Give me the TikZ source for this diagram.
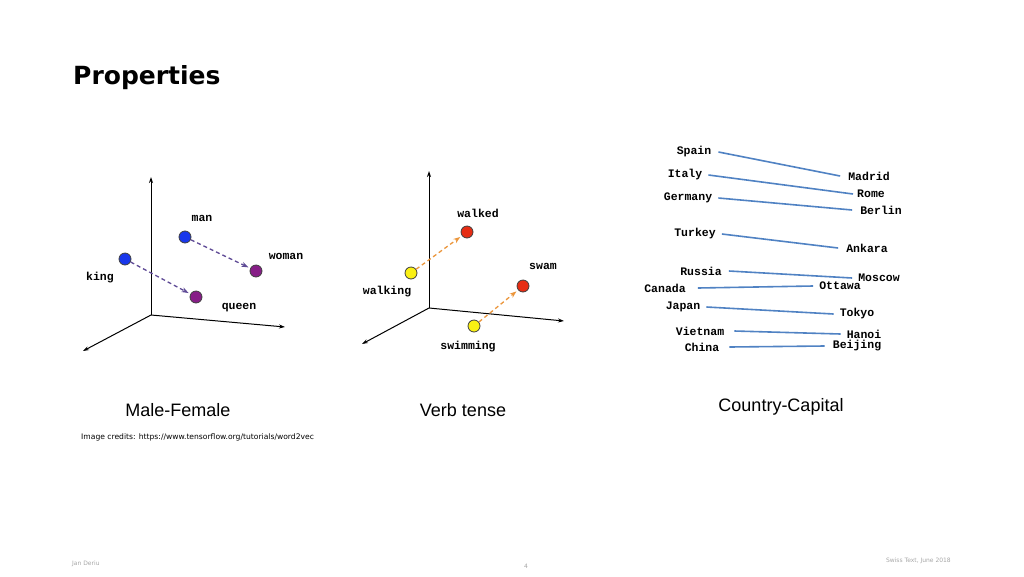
\documentclass[tikz,border=0pt]{standalone}
\usepackage{fontspec}
\setmainfont{DejaVu Sans}
\newfontfamily\capfont{Liberation Sans}
\newfontfamily\wordfont{Liberation Mono}
\usetikzlibrary{arrows.meta}

\definecolor{dotblue}{RGB}{25,55,235}
\definecolor{dotpurple}{RGB}{135,30,135}
\definecolor{dotyellow}{RGB}{250,240,20}
\definecolor{dotred}{RGB}{230,45,20}
\definecolor{arrpurple}{RGB}{95,75,150}
\definecolor{arrorange}{RGB}{235,150,60}
\definecolor{linkblue}{RGB}{80,130,195}

\begin{document}
\begin{tikzpicture}[x=1pt,y=-1pt,
  dot/.style={circle,draw=black!75,line width=0.8pt,minimum size=12pt,inner sep=0pt},
  word/.style={font=\wordfont\bfseries\fontsize{11.5}{11.5}\selectfont,inner sep=0pt},
  axis/.style={line width=1pt,-{Stealth[length=6pt,width=4pt]}},
  move/.style={line width=1.3pt,dash pattern=on 4pt off 3pt,shorten >=2pt,-{Stealth[length=7pt,width=5pt]}},
  link/.style={draw=linkblue,line width=1.6pt},
  caption/.style={font=\capfont\fontsize{18}{18}\selectfont},
  footer/.style={font=\fontsize{6}{6}\selectfont,text=black!35,inner sep=0pt}]
 \useasboundingbox (0,0) rectangle (1024,576);

 \node[anchor=base west,inner sep=0pt,font=\bfseries\fontsize{25}{25}\selectfont] (title) at (73,84) {Properties};

 % male - female
 \coordinate (o1) at (151,315);
 \coordinate (o1y) at (151,177);
 \coordinate (o1x) at (285,327);
 \coordinate (o1z) at (83,351);
 \draw[axis] (o1) -- (o1y);
 \draw[axis] (o1) -- (o1x);
 \draw[axis] (o1) -- (o1z);
 \node[dot,fill=dotblue] (king) at (125,259) {};
 \node[dot,fill=dotblue] (man) at (185,237) {};
 \node[dot,fill=dotpurple] (woman) at (256,271) {};
 \node[dot,fill=dotpurple] (queen) at (196,297) {};
 \draw[move,arrpurple] (king) -- (queen);
 \draw[move,arrpurple] (man) -- (woman);
 \node[word] (lman) at (202,218) {man};
 \node[word] (lwoman) at (286,256) {woman};
 \node[word] (lking) at (100,278) {king};
 \node[word] (lqueen) at (239,308) {queen};
 \node[caption] (cap1) at (178,410) {Male-Female};

 % verb tense
 \coordinate (o2) at (429,308);
 \coordinate (o2y) at (429,171);
 \coordinate (o2x) at (564,321);
 \coordinate (o2z) at (362,344);
 \draw[axis] (o2) -- (o2y);
 \draw[axis] (o2) -- (o2x);
 \draw[axis] (o2) -- (o2z);
 \node[dot,fill=dotyellow] (walking) at (411,273) {};
 \node[dot,fill=dotred] (walked) at (467,232) {};
 \node[dot,fill=dotred] (swam) at (523,286) {};
 \node[dot,fill=dotyellow] (swimming) at (474,326) {};
 \draw[move,arrorange] (walking) -- (walked);
 \draw[move,arrorange] (swimming) -- (swam);
 \node[word] (lwalked) at (478,213) {walked};
 \node[word] (lswam) at (543,266) {swam};
 \node[word] (lwalking) at (387,292) {walking};
 \node[word] (lswimming) at (468,347) {swimming};
 \node[caption] (cap2) at (463,410) {Verb tense};

 % country - capital
 \node[word] (spain) at (694,152) {Spain};
 \node[word] (italy) at (685,175) {Italy};
 \node[word] (germany) at (688,198) {Germany};
 \node[word] (turkey) at (695,234) {Turkey};
 \node[word] (russia) at (701,271) {Russia};
 \node[word] (canada) at (665,288) {Canada};
 \node[word] (japan) at (683,307) {Japan};
 \node[word] (vietnam) at (700,331) {Vietnam};
 \node[word] (china) at (702,347) {China};
 \node[word] (madrid) at (869,176) {Madrid};
 \node[word] (rome) at (871,194) {Rome};
 \node[word] (berlin) at (881,210) {Berlin};
 \node[word] (ankara) at (867,248) {Ankara};
 \node[word] (moscow) at (879,278) {Moscow};
 \node[word] (ottawa) at (840,286) {Ottawa};
 \node[word] (tokyo) at (857,314) {Tokyo};
 \node[word] (hanoi) at (864,334) {Hanoi};
 \node[word] (beijing) at (857,346) {Beijing};
 \draw[link] (spain.east) ++(7,0) -- ([xshift=-8pt]madrid.west);
 \draw[link] (italy.east) ++(6,0) -- ([xshift=-4pt]rome.west);
 \draw[link] (germany.east) ++(6,0) -- ([xshift=-8pt]berlin.west);
 \draw[link] (turkey.east) ++(6,0) -- ([xshift=-8pt]ankara.west);
 \draw[link] (russia.east) ++(7,0) -- ([xshift=-6pt]moscow.west);
 \draw[link] (canada.east) ++(12,0) -- ([xshift=-6pt]ottawa.west);
 \draw[link] (japan.east) ++(6,0) -- ([xshift=-6pt]tokyo.west);
 \draw[link] (vietnam.east) ++(10,0) -- ([xshift=-6pt]hanoi.west);
 \draw[link] (china.east) ++(10,0) -- ([xshift=-8pt]beijing.west);
 \node[caption] (cap3) at (781,407) {Country-Capital};

 \node[anchor=west,inner sep=0pt,font=\fontsize{7.6}{7.6}\selectfont] (credits) at (81,437) {Image credits: https://www.tensorflow.org/tutorials/word2vec};

 \node[footer,anchor=west] (author) at (72,564) {Jan Deriu};
 \node[footer] (page) at (526,566) {4};
 \node[footer,anchor=east] (event) at (951,561) {Swiss Text, June 2018};
\end{tikzpicture}
\end{document}
